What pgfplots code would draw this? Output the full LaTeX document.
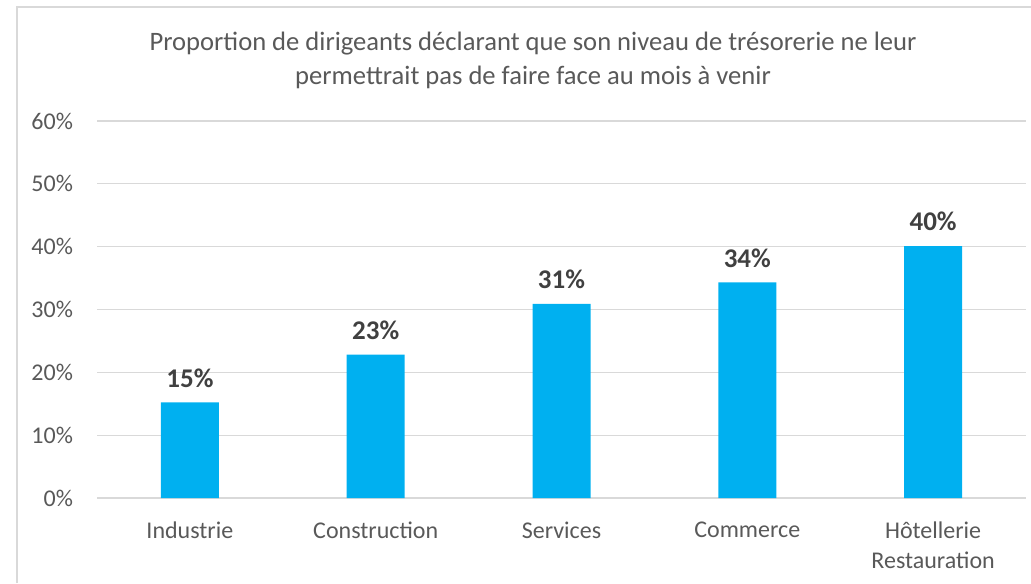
\documentclass[border=0pt]{standalone}
\usepackage{fontspec}
\setmainfont{Carlito}
\usepackage{pgfplots}
\pgfplotsset{compat=1.18}
\definecolor{barblue}{HTML}{00B0F0}
\definecolor{gridgray}{HTML}{D9D9D9}
\definecolor{ticktext}{HTML}{595959}
\definecolor{labeltext}{HTML}{404040}
\begin{document}
\begin{tikzpicture}[x=0.5pt,y=0.5pt]
\useasboundingbox (0,0) rectangle (1031,583);
% frame of the chart area (only left and top are visible)
\draw[gridgray, line width=0.8pt] (17,0) -- (17,576) -- (1031,576);
\node[font=\fontsize{13.3}{17}\selectfont, text=ticktext, align=center] at (533,523)
  {Proportion de dirigeants déclarant que son niveau de trésorerie ne leur\\permettrait pas de faire face au mois à venir};
\begin{axis}[
  at={(48.5pt,42.5pt)}, anchor=south west,
  scale only axis, width=464.5pt, height=188.5pt,
  xmin=-0.5, xmax=4.5, ymin=0, ymax=60,
  xtick={0,1,2,3,4},
  xticklabels={Industrie,Construction,Services,Commerce,{Hôtellerie\\Restauration}},
  x tick label style={align=center, text=ticktext, font=\fontsize{12}{15}\selectfont, yshift=-8.5pt},
  ytick={0,10,20,30,40,50,60},
  yticklabel={\pgfmathprintnumber{\tick}\%},
  y tick label style={text=ticktext, font=\fontsize{12}{14}\selectfont, xshift=-8.5pt},
  /pgf/number format/assume math mode=true,
  axis x line*=bottom, axis y line*=left,
  x axis line style={gridgray, line width=0.8pt, -},
  y axis line style={draw=none},
  major tick length=0pt,
  ymajorgrids, grid style={gridgray, line width=0.6pt},
  ybar, bar width=29pt,
  nodes near coords={\pgfmathprintnumber[fixed,precision=0]{\pgfplotspointmeta}\%},
  point meta=explicit,
  nodes near coords style={font=\bfseries\fontsize{13.5}{15}\selectfont, text=labeltext, yshift=4pt},
]
\addplot[fill=barblue, draw=none] coordinates {
  (0,15.2) [15]
  (1,22.8) [23]
  (2,30.9) [31]
  (3,34.3) [34]
  (4,40.1) [40]
};
\end{axis}
\end{tikzpicture}
\end{document}
